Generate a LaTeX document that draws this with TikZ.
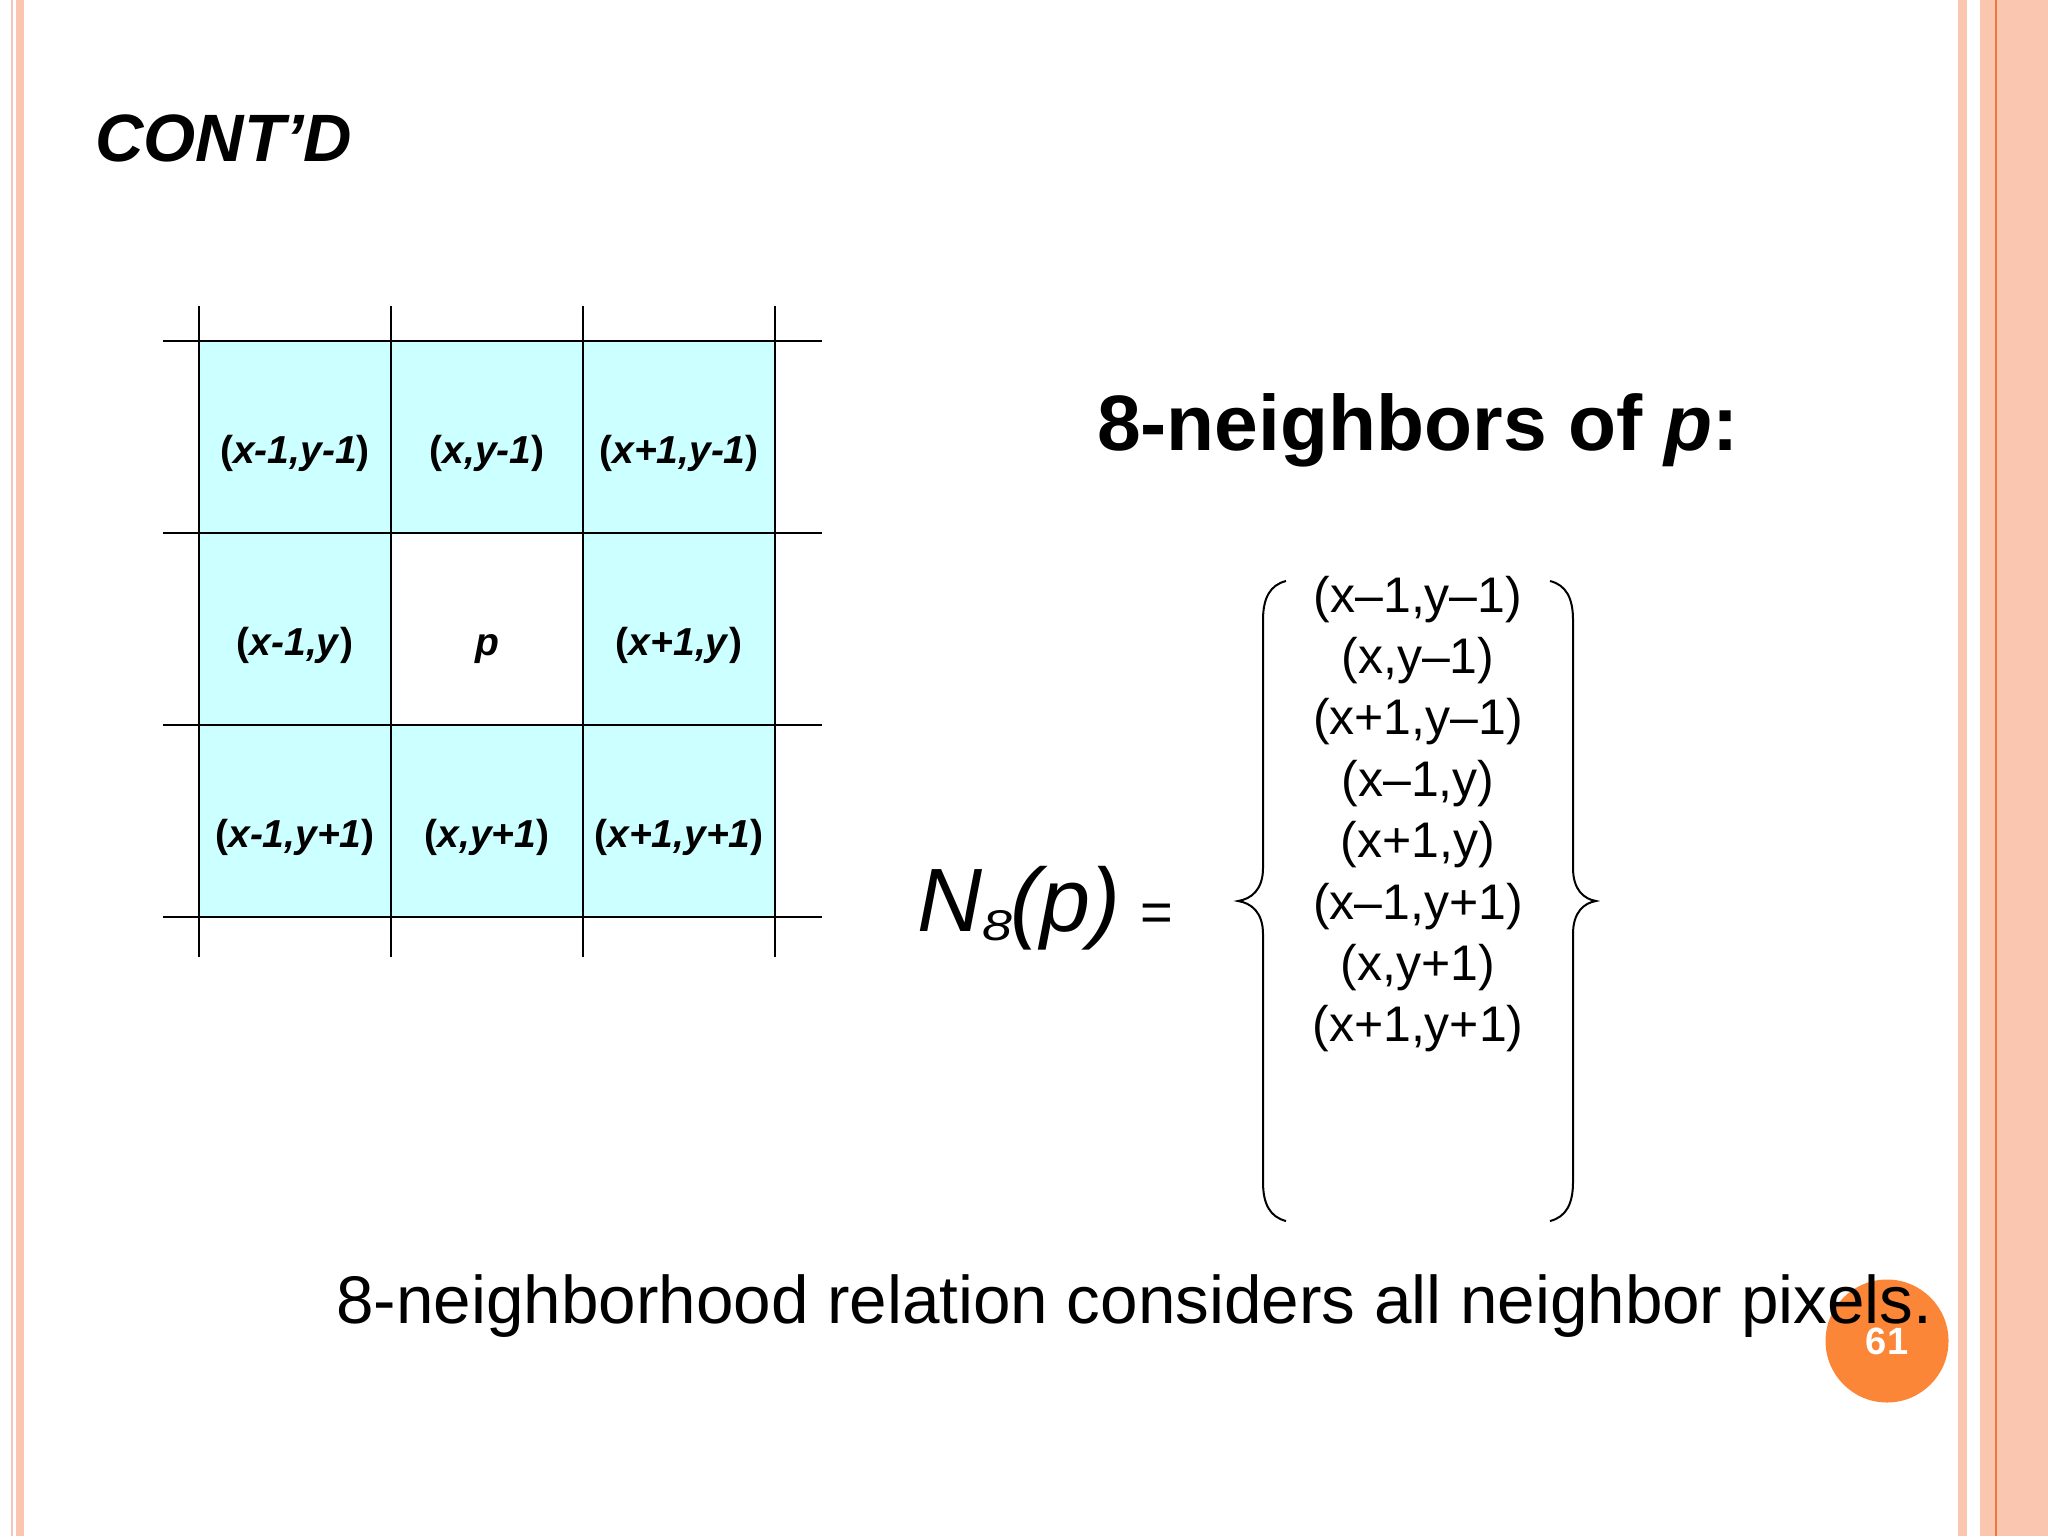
\documentclass[tikz,border=0pt]{standalone}
\usepackage{graphicx}
\usepackage{fontspec}
\setmainfont{Liberation Sans}
\begin{document}
\begin{tikzpicture}[x=0.5pt,y=-0.5pt]
\definecolor{peach}{RGB}{251,198,176}
\definecolor{pinkline}{RGB}{246,196,186}
\definecolor{orangeline}{RGB}{238,120,60}
\definecolor{cellcyan}{RGB}{204,255,255}
\definecolor{badgeorange}{RGB}{252,134,55}
\tikzset{
  gridline/.style={line width=1.15pt, black},
  celltext/.style={anchor=base, inner sep=0pt, font=\fontsize{19.5}{22}\selectfont\bfseries},
  listtext/.style={anchor=base, inner sep=0pt, font=\fontsize{25}{30}\selectfont},
  bracestyle/.style={line width=1pt, black},
  plain/.style={anchor=base west, inner sep=0pt},
}
\useasboundingbox (0,0) rectangle (2048,1536);
\fill[white] (0,0) rectangle (2048,1536);
% slide borders
\fill[pinkline] (10.5,0) rectangle (13,1536);
\fill[peach] (15.7,0) rectangle (24,1536);
\fill[peach] (1958,0) rectangle (1967,1536);
\fill[peach] (1980,0) rectangle (2048,1536);
\draw[orangeline, line width=1pt] (1996.3,0) -- (1996.3,1536);
% title
\node[plain, font=\fontsize{33.5}{40}\selectfont\bfseries\itshape] (title) at (95,161) {CONT’D};
% grid cells
\fill[cellcyan] (199,341) rectangle (775,917);
\fill[white] (391,533) rectangle (583,725);
\foreach \x in {199,391,583,775} \draw[gridline] (\x,306) -- (\x,957);
\foreach \y in {341,533,725,917} \draw[gridline] (163,\y) -- (822,\y);
\node[celltext] (c11) at (295,463) {(\textit{x-1,y-1})};
\node[celltext] (c12) at (487,463) {(\textit{x,y-1})};
\node[celltext] (c13) at (679,463) {(\textit{x+1,y-1})};
\node[celltext] (c21) at (295,655) {(\textit{x-1,y})};
\node[celltext] (c22) at (487,655) {\textit{p}};
\node[celltext] (c23) at (679,655) {(\textit{x+1,y})};
\node[celltext] (c31) at (295,847) {(\textit{x-1,y+1})};
\node[celltext] (c32) at (487,847) {(\textit{x,y+1})};
\node[celltext] (c33) at (679,847) {(\textit{x+1,y+1})};
% heading
\node[anchor=base, inner sep=0pt, font=\fontsize{39.3}{45}\selectfont\bfseries] (head) at (1418,450) {8-neighbors of \textit{p}:};
% N8(p) =
\node[plain, font=\fontsize{45}{50}\selectfont\itshape] (nN) at (917,931) {N};
\node[plain, font=\fontsize{21.5}{24}\selectfont\itshape] (n8) at (982,940) {\scalebox{1.25}[1]{8}};
\node[plain, font=\fontsize{45}{50}\selectfont\itshape] (np) at (1010,931) {(p)};
\node[plain, font=\fontsize{28}{30}\selectfont] (neq) at (1140,931) {=};
% list
\node[listtext] (l1) at (1418,612) {(x–1,y–1)};
\node[listtext] (l2) at (1418,673.4) {(x,y–1)};
\node[listtext] (l3) at (1418,734.8) {(x+1,y–1)};
\node[listtext] (l4) at (1418,796.2) {(x–1,y)};
\node[listtext] (l5) at (1418,857.6) {(x+1,y)};
\node[listtext] (l6) at (1418,919) {(x–1,y+1)};
\node[listtext] (l7) at (1418,980.4) {(x,y+1)};
\node[listtext] (l8) at (1418,1041.8) {(x+1,y+1)};
% braces
\draw[bracestyle] (1286,581) .. controls (1270,585) and (1263,598) .. (1263,620)
  -- (1263,868) .. controls (1263,890) and (1251,899) .. (1238,901)
  .. controls (1251,903) and (1263,912) .. (1263,934)
  -- (1263,1182) .. controls (1263,1204) and (1270,1217) .. (1286,1221);
\draw[bracestyle] (1550,581) .. controls (1566,585) and (1573,598) .. (1573,620)
  -- (1573,868) .. controls (1573,890) and (1584,899) .. (1596,901)
  .. controls (1584,903) and (1573,912) .. (1573,934)
  -- (1573,1182) .. controls (1573,1204) and (1566,1217) .. (1550,1221);
% page badge
\node[circle, fill=badgeorange, minimum size=61.5pt, inner sep=0pt, text=white, font=\fontsize{19}{20}\selectfont\bfseries] (badge) at (1887,1341) {61};
% sentence
\node[plain, font=\fontsize{33.7}{40}\selectfont] (sent) at (336,1323) {8-neighborhood relation considers all neighbor pixels.};
\end{tikzpicture}
\end{document}
